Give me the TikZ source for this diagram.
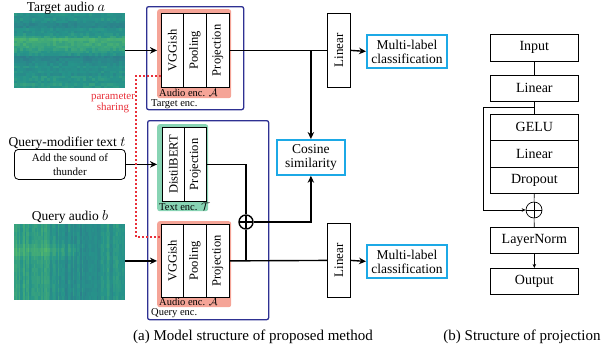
\documentclass[tikz,border=0pt]{standalone}
\usepackage{fontspec}
\setmainfont{Liberation Serif}
\usetikzlibrary{arrows.meta}

\definecolor{encblue}{HTML}{2E3192}
\definecolor{salmon}{HTML}{F5A497}
\definecolor{mint}{HTML}{88D4B4}
\definecolor{skyb}{HTML}{1CA9E6}
\definecolor{sharered}{HTML}{E8303A}
\definecolor{vlow}{HTML}{33698D}
\definecolor{vmid}{HTML}{26948A}
\definecolor{vhigh}{HTML}{62C462}

\newcommand\pxfont[1]{\fontsize{#1}{#1}\selectfont}

% rectangle node given by its corners: style, name, x1, y1, x2, y2, text
\newcommand\rectnode[7]{%
  \pgfmathsetmacro\rnw{#5-#3}\pgfmathsetmacro\rnh{#6-#4}%
  \node[#1, minimum width=\rnw pt, minimum height=\rnh pt, anchor=north west, inner sep=0pt] (#2) at (#3,#4) {#7};}

% one spectrogram cell: value in [0,1], x, y, width, height
\newcommand\specfill[5]{%
  \ifdim#1pt<0.5pt
    \pgfmathtruncatemacro\spc{200*#1}%
    \fill[vmid!\spc!vlow] (#2,#3) rectangle ++(#4+0.3,#5+0.3);
  \else
    \pgfmathtruncatemacro\spc{200*#1-100}%
    \fill[vhigh!\spc!vmid] (#2,#3) rectangle ++(#4+0.3,#5+0.3);
  \fi}

\begin{document}
\begin{tikzpicture}[x=1pt,y=-1pt,
  declare function={gss(\t,\m,\s)=exp(-((\t-\m)/\s)*((\t-\m)/\s));},
  link/.style={line width=1.4pt},
  arr/.style={line width=1.4pt, -{Stealth[length=7pt,width=6.5pt]}},
  encbox/.style={draw=encblue, line width=1.3pt, rounded corners=2pt},
  audbox/.style={fill=salmon, rounded corners=2.5pt},
  txtenc/.style={fill=mint, rounded corners=2.5pt},
  cell/.style={draw, fill=white, line width=0.8pt},
  colt/.style={rotate=90, font=\pxfont{12.5}, inner sep=0pt},
  tagtxt/.style={font=\pxfont{10.5}, anchor=west, inner sep=0pt},
  outbox/.style={draw=skyb, line width=1.8pt, fill=white, align=center, font=\fontsize{13.5}{14}\selectfont},
  lbl/.style={font=\pxfont{13.5}, anchor=base, inner sep=0pt},
  share/.style={draw=sharered, line width=1.1pt, dash pattern=on 2pt off 2pt},
  oplus/.style={circle, draw, fill=white, inner sep=0pt,
    path picture={\draw (path picture bounding box.north) -- (path picture bounding box.south)
      (path picture bounding box.west) -- (path picture bounding box.east);}},
  pb/.style={draw, line width=0.7pt, font=\pxfont{14}},
  thinl/.style={line width=0.7pt},
  thinarr/.style={line width=0.7pt, -{Stealth[length=4pt,width=3.5pt]}},
  captxt/.style={font=\pxfont{15}, anchor=base, inner sep=0pt}]
\useasboundingbox (0,0) rectangle (608,354);

% ---------- spectrograms ----------
\pgfmathsetseed{11}
\begin{scope}
  \clip (14,13) rectangle (125,88);
  \foreach \ri in {0,...,29}{
    \pgfmathsetmacro\yy{14.25+2.5*\ri}
    \pgfmathsetmacro\rv{0.47+0.28*gss(\yy,42,8)-0.14*gss(\yy,25,3)-0.14*gss(\yy,58,4)+0.12*gss(\yy,85,3)+0.12*(rnd-0.5)}
    \foreach \ci in {0,...,36}{
      \pgfmathsetmacro\sv{min(max(\rv+0.16*(rnd-0.5),0),1)}
      \specfill{\sv}{14+3*\ci}{13+2.5*\ri}{3}{2.5}
    }
  }
\end{scope}
\begin{scope}
  \clip (14,224) rectangle (125,300);
  \foreach \ci in {0,...,73}{
    \pgfmathsetmacro\xx{14.75+1.5*\ci}
    \pgfmathsetmacro\cv{0.5+0.22*(rnd-0.5)+0.1*(\xx<48)-0.08*(\xx>62)*(\xx<100)}
    \foreach \ri in {0,...,18}{
      \pgfmathsetmacro\yy{226+4*\ri}
      \pgfmathsetmacro\sv{min(max(\cv+0.15*gss(\yy,251,6)*(\xx<75)+0.1*(rnd-0.5),0),1)}
      \specfill{\sv}{14+1.5*\ci}{224+4*\ri}{1.5}{4}
    }
  }
\end{scope}
\rectnode{}{specT}{14}{13}{125}{88}{}
\rectnode{}{specQ}{14}{224}{125}{300}{}

% ---------- input labels ----------
\node[lbl] (lblT) at (66,11) {Target audio $a$};
\node[lbl] (lblX) at (67,146) {Query-modifier text $t$};
\node[lbl] (lblQ) at (70,220) {Query audio $b$};
\rectnode{draw, line width=0.8pt, rounded corners=4pt, align=center, font=\fontsize{11}{14}\selectfont}{txtQ}{14}{149}{125}{179}{Add the sound of\\thunder}

% ---------- target encoder ----------
\rectnode{encbox}{encT}{146}{6}{243}{109}{}
\rectnode{audbox}{audT}{157}{9}{231}{98}{}
\rectnode{cell}{vggT}{161}{13}{183}{87}{}
\rectnode{cell}{poolT}{183}{13}{206}{87}{}
\rectnode{cell}{projT}{206}{13}{229}{87}{}
\node[colt] (tvggT) at (vggT) {VGGish};
\node[colt] (tpoolT) at (poolT) {Pooling};
\node[colt] (tprojT) at (projT) {Projection};
\node[tagtxt] (tagAT) at (159,93) {Audio enc. $\mathcal{A}$};
\node[tagtxt] (tagTE) at (151,104) {Target enc.};

% ---------- query encoder ----------
\rectnode{encbox}{encQ}{147}{120}{268}{319}{}
\rectnode{txtenc}{mintT}{157}{124}{208}{211}{}
\rectnode{cell}{bertQ}{162}{127}{184}{201}{}
\rectnode{cell}{projX}{184}{127}{206}{201}{}
\node[colt] (tbert) at (bertQ) {DistilBERT};
\node[colt] (tprojX) at (projX) {Projection};
\node[tagtxt] (tagTT) at (159,206.5) {Text enc. $\mathcal{T}$};
\rectnode{audbox}{audQ}{157}{221}{231}{307}{}
\rectnode{cell}{vggQ}{161}{224}{183}{297}{}
\rectnode{cell}{poolQ}{183}{224}{206}{297}{}
\rectnode{cell}{projQ}{206}{224}{229}{297}{}
\node[colt] (tvggQ) at (vggQ) {VGGish};
\node[colt] (tpoolQ) at (poolQ) {Pooling};
\node[colt] (tprojQ) at (projQ) {Projection};
\node[tagtxt] (tagAQ) at (159,302) {Audio enc. $\mathcal{A}$};
\node[tagtxt] (tagQE) at (151,313) {Query enc.};
\node[oplus, line width=1.4pt, minimum size=14pt] (plusA) at (246,222) {};

% ---------- heads ----------
\rectnode{cell}{linT}{327}{13}{350}{87}{}
\node[colt, font=\pxfont{13}] (tlinT) at (linT) {Linear};
\rectnode{cell}{linQ}{327}{223}{350}{297}{}
\node[colt, font=\pxfont{13}] (tlinQ) at (linQ) {Linear};
\rectnode{outbox}{clsT}{366}{34}{446}{67}{Multi-label\\classification}
\rectnode{outbox}{clsQ}{366}{244}{446}{277}{Multi-label\\classification}
\rectnode{outbox}{cosb}{276}{139}{344}{174}{Cosine\\similarity}

% ---------- connectors ----------
\draw[arr] (specT.east |- projT) -- (audT.west |- projT);
\draw[link] (projT.east) -- (linT.west);
\coordinate (jT) at (cosb.north |- projT.east);
\draw[arr] (jT) -- (cosb.north);
\draw[arr] (linT.east) -- (clsT.west);
\draw[arr] (txtQ.east) -- (txtQ.east -| mintT.west);
\draw[link] (projX.east) -| (plusA.north);
\draw[arr] (plusA.east) -| (cosb.south);
\draw[link] (plusA.south) -- (plusA.south |- projQ.east);
\draw[arr] (specQ.east |- projQ) -- (audQ.west |- projQ);
\draw[link] (projQ.east) -- (linQ.west);
\draw[arr] (linQ.east) -- (clsQ.west);

% shared weights between the two audio encoders
\coordinate (shT) at (136,76);
\coordinate (shQ) at (136,237);
\draw[share] (vggT.west |- shT) -- (shT) -- (shQ) -- (vggQ.west |- shQ);
\node[font=\fontsize{11}{9}\selectfont, text=sharered, align=center, inner sep=0pt] (shlbl) at (113,103) {parameter\\sharing};

% ---------- projection block ----------
\rectnode{pb}{inpB}{490}{34}{578}{61}{Input}
\rectnode{pb}{linB}{490}{75}{578}{101}{Linear}
\rectnode{pb}{geluB}{490}{114}{578}{140}{GELU}
\rectnode{pb}{lin2B}{490}{140}{578}{167}{Linear}
\rectnode{pb}{dropB}{490}{167}{578}{193}{Dropout}
\node[oplus, thinl, minimum size=16pt] (plusB) at (534,210) {};
\rectnode{pb}{lnB}{490}{227}{578}{253}{LayerNorm}
\rectnode{pb}{outB}{490}{268}{578}{294}{Output}
\draw[thinl] (inpB) -- (linB);
\draw[thinl] (linB) -- (geluB);
\coordinate (skA) at (534,107);
\coordinate (skB) at (483,107);
\coordinate (skC) at (483,210);
\draw[thinl] (skA) -- (skB) -- (skC);
\draw[thinarr] (skC) -- (plusB.west);
\draw[thinl] (dropB) -- (plusB);
\draw[thinl] (plusB) -- (lnB);
\draw[thinarr] (lnB) -- (outB);

% ---------- captions ----------
\node[captxt] (capA) at (253,340) {(a) Model structure of proposed method};
\node[captxt] (capB) at (522,340) {(b) Structure of projection};
\end{tikzpicture}
\end{document}
